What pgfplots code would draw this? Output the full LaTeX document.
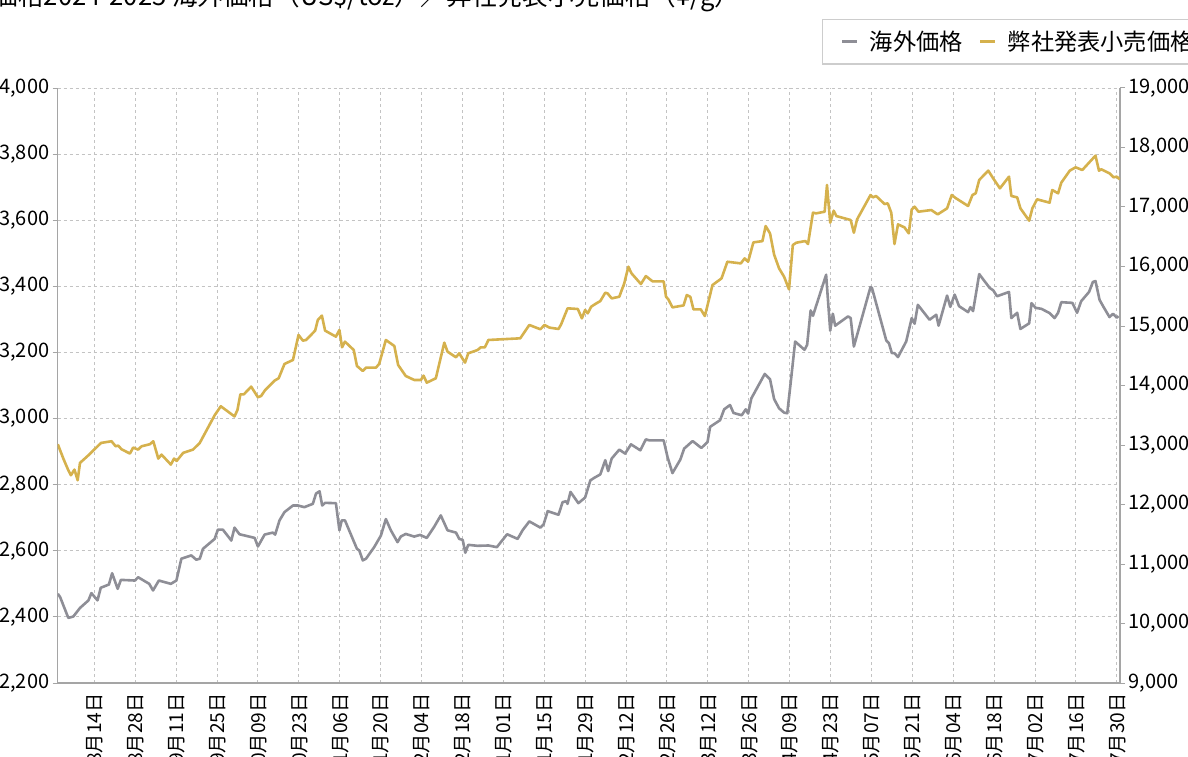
\documentclass[border=0pt]{standalone}
\usepackage{fontspec}
\setmainfont{Noto Sans CJK JP}
\usepackage{pgfplots}
\pgfplotsset{compat=1.18}
\definecolor{gr}{RGB}{142,142,150}
\definecolor{gd}{RGB}{213,177,77}
\definecolor{gridc}{RGB}{195,195,195}
\definecolor{axc}{RGB}{165,165,165}
\definecolor{legc}{RGB}{205,205,205}

\pgfplotstableread{
d v
0.5 2470
1.3 2460
4.1 2397
5.8 2401
8.1 2427
11 2450
12 2472
14.1 2450
15.2 2488
18 2498
19.1 2532
21 2485
22.1 2512
26.9 2510
28 2520
31.8 2500
33.1 2480
35.1 2510
39.2 2500
41.1 2510
42.8 2576
46.2 2586
47.9 2573
49.1 2576
50.2 2606
54.2 2636
55.3 2664
57 2664
59.9 2631
61 2670
62.7 2650
67.9 2639
69 2613
71.3 2649
74.1 2655
74.9 2649
76.4 2692
78.1 2717
81 2737
82.7 2737
84.9 2732
87.8 2742
88.9 2773
90.1 2780
91 2737
92 2745
95.7 2744
96.9 2662
97.7 2692
98.8 2692
102.9 2606
103.7 2601
104.9 2571
106 2576
108.8 2611
111.1 2646
112.8 2696
114.5 2662
116.8 2626
117.9 2643
119.6 2651
122.5 2643
124.5 2648
126.8 2639
129.3 2672
131.6 2707
133.9 2662
136.8 2655
137.9 2636
139.1 2633
140 2594
141 2618
144.2 2615
147.9 2616
150.8 2611
154.3 2650
157.9 2636
159.6 2662
161.9 2689
165.7 2670
166.8 2680
168.2 2720
171.9 2709
173.3 2747
174.5 2750
175 2742
176 2778
178.7 2744
181 2761
182.8 2813
184.2 2821
186.2 2831
187.9 2874
188.9 2841
190.1 2879
192.7 2906
194.7 2894
196.7 2922
199.9 2904
201.8 2937
203 2934
207.9 2934
209.2 2884
210.9 2835
213.6 2876
214.9 2909
217.8 2932
220.8 2911
222.9 2929
223.8 2975
227.2 2995
228.6 3028
230.6 3041
231.8 3017
234.6 3010
236 3028
236.8 3015
237.9 3061
242.5 3135
244.3 3119
245.7 3059
247.4 3031
249.1 3018
250.2 3016
251.6 3127
252.9 3233
256.1 3208
257 3223
258.2 3327
259 3311
263.5 3435
264.9 3266
265.8 3317
266.6 3281
271 3309
271.9 3304
273 3218
278.7 3398
279.2 3395
284.1 3236
285 3228
286 3198
286.9 3198
288.1 3186
290.9 3233
292.8 3304
293.8 3287
294.9 3344
298.9 3299
301.2 3314
302 3281
304.9 3372
306 3338
307.5 3375
309 3340
312.1 3322
312.9 3337
313.8 3325
315.9 3437
319.5 3395
320.7 3388
322 3370
326.1 3383
326.9 3304
328.9 3320
330 3271
333 3288
333.8 3349
335.2 3335
337.2 3332
340 3319
341.7 3304
342.9 3320
344 3352
347.8 3350
349.4 3320
350.8 3355
353.5 3383
354.8 3413
355.7 3416
357.1 3359
358.5 3337
360.5 3307
361.7 3317
363 3305
363.6 3310
}\grayt

\pgfplotstableread{
d v
0.5 13013
2.4 12772
4.1 12576
5 12492
6.2 12587
7.3 12408
8.1 12699
11 12828
15.3 13035
18.9 13063
20.3 12979
21.2 12990
22.3 12929
25.2 12856
26.3 12957
28 12923
29.2 12979
32 13013
33.2 13063
34.9 12772
36 12839
39.2 12671
40.3 12772
41.2 12733
43.4 12867
46.8 12923
49.1 13035
54.2 13500
56.3 13651
61 13480
62 13589
63 13852
64.2 13852
66.7 13981
69 13802
70.1 13824
71.5 13925
74.7 14082
76.1 14121
78.1 14362
81 14429
82.9 14849
84.4 14754
85.5 14765
88.6 14922
89.5 15101
90.9 15174
92 14922
95.7 14821
96.9 14933
97.8 14642
98.8 14737
101.8 14597
102.9 14328
104.9 14244
106 14300
109.4 14300
110.5 14362
112.8 14765
115.7 14664
117 14345
119.6 14160
122.5 14093
124.8 14093
125.7 14166
126.8 14048
129.9 14121
132.8 14720
133.9 14569
136.8 14474
137.9 14541
139.9 14384
141 14541
144.2 14597
145.3 14642
146.7 14642
147.9 14765
158.8 14793
161.9 15017
165.7 14945
167.1 15017
168.8 14973
171.9 14950
172.8 15028
175 15297
178.5 15286
179.9 15129
181 15269
181.9 15213
183.1 15325
184.5 15370
186.2 15419
187.9 15559
188.7 15548
190.1 15464
192.7 15492
194.4 15716
195.8 15996
196.9 15884
200.1 15705
201.8 15839
204.1 15750
207.9 15750
208.7 15492
209.5 15447
210.9 15313
214.7 15346
215.8 15520
217 15492
218.1 15279
220.6 15279
222 15167
224.6 15688
227.7 15800
229.7 16080
234.3 16052
235.6 16136
236.8 16080
238.6 16405
241.7 16427
242.8 16680
244.3 16556
245.7 16200
247.4 15968
249.1 15829
250.8 15616
252.1 16361
253.3 16400
256.4 16428
257.3 16378
259 16904
260.1 16893
263 16921
263.8 17369
264.9 16736
266.1 16938
267 16848
271.9 16781
273 16568
274.1 16792
278.7 17201
279.5 17162
280.6 17185
283.5 17050
284.6 17061
285.8 16904
286.9 16378
288.1 16708
290.3 16658
291.8 16557
292.8 16960
293.8 17005
295.1 16921
299.5 16949
301.7 16876
304.9 16977
306.5 17201
308 17145
312.1 17017
313.6 17202
314.7 17230
315.9 17454
319 17611
320.9 17465
323 17314
326.1 17510
326.9 17185
328.9 17162
330 16978
333 16770
334.1 16978
335.7 17129
340 17073
340.9 17286
342.9 17230
344 17409
346.9 17611
348.9 17667
351.2 17622
355.7 17863
356.9 17611
357.7 17633
360.5 17566
361.9 17499
363 17510
364 17465
}\goldt

\pgfplotsset{
  common/.style={
    at={(0pt,0pt)}, anchor=south west,
    scale only axis, width=531.15pt, height=297.5pt,
    xmin=0.47, xmax=364.1,
    axis line style={-, axc, line width=0.6pt},
    tick label style={font=\fontsize{10}{12}\selectfont, black},
    /pgf/number format/assume math mode=true,
    /pgf/number format/1000 sep={,},
    scaled ticks=false,
    tick align=outside,
    major tick length=2.5pt,
    ytick style={axc, line width=0.5pt},
    xtick style={draw=none},
    every axis plot/.append style={line width=1.3pt, line join=round, mark=none},
  }
}

\begin{document}
\begin{tikzpicture}
\useasboundingbox (-28.85pt,-36.5pt) rectangle (565.15pt,341.5pt);
\clip (-28.85pt,-36.5pt) rectangle (565.15pt,341.5pt);
\begin{axis}[common,
  ymin=2200, ymax=4000,
  axis x line*=bottom, axis y line*=left,
  ytick={2200,2400,...,4000},
  xtick={13,27,...,363},
  xticklabels={2024年08月14日,2024年08月28日,2024年09月11日,2024年09月25日,2024年10月09日,2024年10月23日,2024年11月06日,2024年11月20日,2024年12月04日,2024年12月18日,2025年01月01日,2025年01月15日,2025年01月29日,2025年02月12日,2025年02月26日,2025年03月12日,2025年03月26日,2025年04月09日,2025年04月23日,2025年05月07日,2025年05月21日,2025年06月04日,2025年06月18日,2025年07月02日,2025年07月16日,2025年07月30日},
  xticklabel style={rotate=90, anchor=east, inner sep=2.5pt, font=\fontsize{9.6}{11}\selectfont},
  yticklabel style={inner xsep=1.5pt},
  xmajorgrids, ymajorgrids,
  grid style={gridc, dash pattern=on 1.5pt off 1.5pt, line width=0.45pt},
]
\addplot[gr] table[x=d,y=v] {\grayt};
\end{axis}
\begin{axis}[common,
  ymin=9000, ymax=19000,
  axis x line=none, axis y line*=right,
  ytick={9000,10000,...,19000},
  yticklabel style={inner xsep=1.5pt},
  legend columns=2,
  legend style={at={(0.7195,1.116)}, anchor=north west, draw=legc, line width=0.6pt,
    font=\fontsize{11.6}{14}\selectfont, inner xsep=9pt, inner ysep=3pt,
    nodes={inner sep=2.5pt},
    /tikz/every odd column/.append style={column sep=3pt},
    /tikz/every even column/.append style={column sep=5.5pt}},
  legend image code/.code={\draw[#1, line width=1.6pt] (0pt,0pt) -- (7.5pt,0pt);},
]
\addlegendimage{gr}
\addlegendentry{海外価格}
\addplot[gd] table[x=d,y=v] {\goldt};
\addlegendentry{弊社発表小売価格}
\end{axis}
\node[anchor=base west, font=\fontsize{12.8}{15}\selectfont, inner sep=0pt] at (-45.5pt,338.5pt) {金価格2024-2025 海外価格（US\$/toz）／弊社発表小売価格（¥/g）};
\end{tikzpicture}
\end{document}
